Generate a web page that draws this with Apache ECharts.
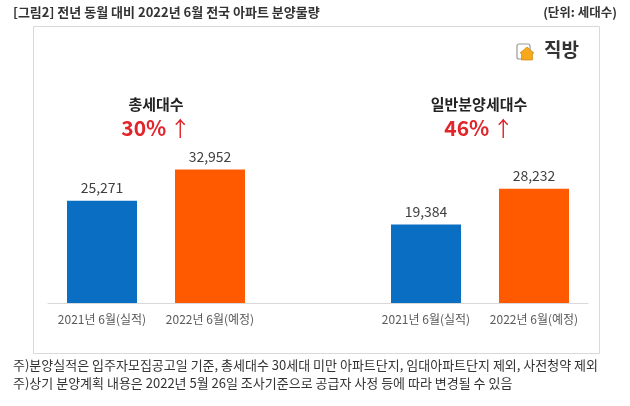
<!DOCTYPE html>
<html><head><meta charset="utf-8">
<script src="https://cdn.jsdelivr.net/npm/echarts@6/dist/echarts.min.js"></script>
<style>html,body{margin:0;padding:0;background:#fff}#c{width:630px;height:406px}</style>
</head><body><div id="c"></div>
<script>
const groups = ['총세대수', '일반분양세대수'];
const changes = ['30%', '46%'];
const periodLabels = ['2021년 6월(실적)', '2022년 6월(예정)'];
const actual2021 = [25271, 19384];
const planned2022 = [32952, 28232];
const titleText = '[그림2] 전년 동월 대비 2022년 6월 전국 아파트 분양물량';
const unitText = '(단위: 세대수)';
const notes = [
  '주)분양실적은 입주자모집공고일 기준, 총세대수 30세대 미만 아파트단지, 임대아파트단지 제외, 사전청약 제외',
  '주)상기 분양계획 내용은 2022년 5월 26일 조사기준으로 공급자 사정 등에 따라 변경될 수 있음'
];

const FONT = '"Noto Sans CJK KR", "Noto Sans", sans-serif';
const BLUE = '#0A6FC2', ORANGE = '#FF5A00';

// categories: group1 (2 bars), gap, group2 (2 bars)
const categories = [periodLabels[0], periodLabels[1], '', periodLabels[0], periodLabels[1]];
const values = [
  {value: actual2021[0], itemStyle: {color: BLUE}},
  {value: planned2022[0], itemStyle: {color: ORANGE}},
  '-',
  {value: actual2021[1], itemStyle: {color: BLUE}},
  {value: planned2022[1], itemStyle: {color: ORANGE}}
];

const chart = echarts.init(document.getElementById('c'));
const groupX = [156, 479];
const graphics = [
  {type: 'rect', shape: {x: 33.5, y: 26.5, width: 566, height: 327}, style: {fill: 'none', stroke: '#d9d9d9', lineWidth: 1}, silent: true},
  {type: 'text', left: 13, top: 6, style: {text: titleText, font: 'bold 13px ' + FONT, fill: '#333'}},
  {type: 'text', right: 13, top: 6, style: {text: unitText, font: 'bold 12.5px ' + FONT, fill: '#333'}},
  {type: 'text', left: 13, top: 359, style: {text: notes[0], font: '13px ' + FONT, fill: '#333'}},
  {type: 'text', left: 13, top: 377, style: {text: notes[1], font: '13px ' + FONT, fill: '#333'}},
  // logo
  {type: 'rect', shape: {x: 517, y: 44, width: 13, height: 15, r: 2}, style: {fill: '#fff', stroke: '#9a9a9a', lineWidth: 1.2}},
  {type: 'polygon', shape: {points: [[520, 53], [527, 47], [534, 53], [532.5, 53], [532.5, 60], [521.5, 60], [521.5, 53]]}, style: {fill: '#F7A81B', stroke: '#c47d00', lineWidth: 0.6}},
  {type: 'text', left: 544, top: 40, style: {text: '직방', font: 'bold 19px ' + FONT, fill: '#333'}}
];
groups.forEach((g, i) => {
  graphics.push({type: 'text', x: groupX[i], y: 104, style: {text: g, font: 'bold 15px ' + FONT, fill: '#222', align: 'center', verticalAlign: 'middle'}});
  graphics.push({type: 'text', x: groupX[i], y: 128, style: {
    text: '{p|' + changes[i] + '} {a|↑}', align: 'center', verticalAlign: 'middle',
    rich: {p: {font: 'bold 21px ' + FONT, fill: '#E0252B'}, a: {font: '21px ' + FONT, fill: '#E0252B'}}
  }});
});

chart.setOption({
  animation: false,
  grid: {left: 48, right: 42, top: 141, bottom: 103},
  xAxis: {
    type: 'category', data: categories,
    axisLine: {lineStyle: {color: '#d9d9d9'}},
    axisTick: {show: false},
    axisLabel: {color: '#595959', fontSize: 12, fontFamily: FONT, margin: 10, interval: 0}
  },
  yAxis: {type: 'value', min: 0, max: 40000, show: false, splitLine: {show: false}},
  series: [{
    type: 'bar', data: values, barWidth: 70,
    label: {show: true, position: 'top', distance: 6, color: '#404040', fontSize: 14, fontFamily: FONT,
      formatter: p => p.value.toLocaleString('en-US')}
  }],
  graphic: graphics
});
</script></body></html>
